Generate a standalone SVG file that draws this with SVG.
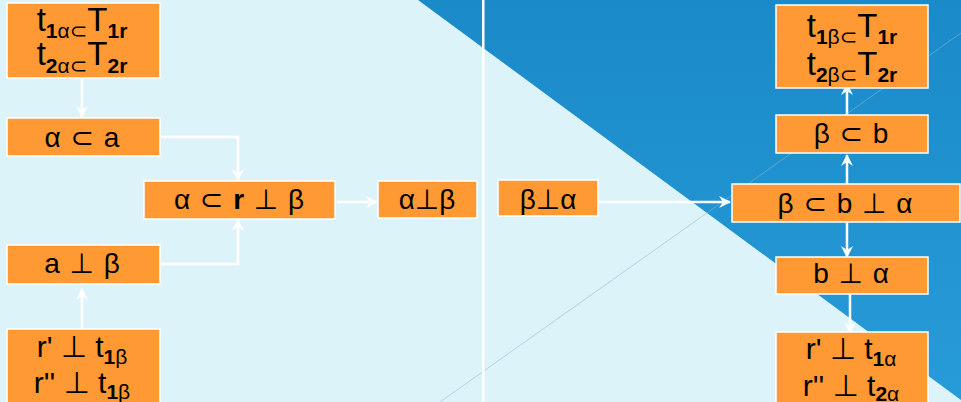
<svg xmlns="http://www.w3.org/2000/svg" width="961" height="402" viewBox="0 0 961 402">
<defs>
<linearGradient id="blue" x1="0" y1="0" x2="0" y2="1">
<stop offset="0" stop-color="#1a8ac8"/>
<stop offset="1" stop-color="#279bd8"/>
</linearGradient>
<marker id="ah" viewBox="0 0 12 12" refX="11" refY="6" markerWidth="12" markerHeight="12" markerUnits="userSpaceOnUse" orient="auto">
<path d="M0,0 L12,6 L0,12 L4,6 Z" fill="#ffffff"/>
</marker>
<style>
.box{fill:#ff9933;stroke:#ffffff;stroke-width:1.5}
.t{font-family:"Liberation Sans","DejaVu Sans",sans-serif;fill:#000000;text-anchor:middle}
.m{font-size:28px;word-spacing:2px}
.big{font-size:33px}
.mid{font-size:30px}
.sub{font-size:21px}
.b{font-weight:bold}
.c{fill:none;stroke:#ffffff;stroke-width:2.5;marker-end:url(#ah)}
</style>
</defs>
<rect x="0" y="0" width="961" height="402" fill="#dcf4f9"/>
<polygon points="418,0 961,0 961,400" fill="url(#blue)"/>
<line x1="440" y1="402" x2="961" y2="33" stroke="#8fb8d0" stroke-opacity="0.55" stroke-width="1"/>
<rect x="482" y="0" width="2.5" height="402" fill="#ffffff"/>

<g id="connectors">
<path class="c" d="M82,79 L82,117"/>
<path class="c" d="M160,137 L238,137 L238,180"/>
<path class="c" d="M160,264 L238,264 L238,220"/>
<path class="c" d="M82,329 L82,289"/>
<path class="c" d="M337,202 L377,202"/>
<path class="c" d="M598,202 L730,202"/>
<path class="c" d="M847,184 L847,155"/>
<path class="c" d="M847,115 L847,84"/>
<path class="c" d="M847,222 L847,257"/>
<path class="c" d="M850,294 L850,333"/>
</g>

<g id="n1">
<rect class="box" x="7" y="3" width="153" height="75"/>
<text class="t big" x="82" y="31">t<tspan class="sub" dy="7"><tspan class="b">1</tspan>α⊂</tspan><tspan dy="-7">T</tspan><tspan class="sub b" dy="7">1r</tspan></text>
<text class="t big" x="82" y="65">t<tspan class="sub" dy="8"><tspan class="b">2</tspan>α⊂</tspan><tspan dy="-8">T</tspan><tspan class="sub b" dy="8">2r</tspan></text>
</g>
<g id="n2">
<rect class="box" x="7" y="118" width="153" height="38"/>
<text class="t m" x="82" y="147">α ⊂ a</text>
</g>
<g id="n3">
<rect class="box" x="144" y="181" width="191" height="38"/>
<text class="t m" x="239" y="209">α ⊂ <tspan class="b">r</tspan> ⊥ β</text>
</g>
<g id="n4">
<rect class="box" x="378" y="181" width="99" height="37"/>
<text class="t m" x="427" y="209">α⊥β</text>
</g>
<g id="n5">
<rect class="box" x="7" y="245" width="153" height="39"/>
<text class="t m" x="82" y="273">a ⊥ β</text>
</g>
<g id="n6">
<rect class="box" x="7" y="329" width="153" height="80"/>
<text class="t mid" x="82" y="357">r' ⊥ t<tspan class="sub" dy="7"><tspan class="b">1</tspan>β</tspan></text>
<text class="t mid" x="82" y="393">r'' ⊥ t<tspan class="sub" dy="6"><tspan class="b">1</tspan>β</tspan></text>
</g>
<g id="n7">
<rect class="box" x="498" y="180" width="100" height="36"/>
<text class="t m" x="548" y="209">β⊥α</text>
</g>
<g id="n8">
<rect class="box" x="732" y="184" width="228" height="38"/>
<text class="t m" x="845" y="213">β ⊂ b ⊥ α</text>
</g>
<g id="n9">
<rect class="box" x="776" y="115" width="152" height="38"/>
<text class="t m" x="851" y="143">β ⊂ b</text>
</g>
<g id="n10">
<rect class="box" x="776" y="5" width="152" height="83"/>
<text class="t big" x="852" y="37">t<tspan class="sub" dy="7"><tspan class="b">1</tspan>β⊂</tspan><tspan dy="-7">T</tspan><tspan class="sub b" dy="7">1r</tspan></text>
<text class="t big" x="852" y="75">t<tspan class="sub" dy="7"><tspan class="b">2</tspan>β⊂</tspan><tspan dy="-7">T</tspan><tspan class="sub b" dy="7">2r</tspan></text>
</g>
<g id="n11">
<rect class="box" x="776" y="257" width="152" height="37"/>
<text class="t m" x="851" y="283">b ⊥ α</text>
</g>
<g id="n12">
<rect class="box" x="776" y="332" width="152" height="80"/>
<text class="t mid" x="851" y="359">r' ⊥ t<tspan class="sub" dy="7"><tspan class="b">1</tspan>α</tspan></text>
<text class="t mid" x="851" y="396">r'' ⊥ t<tspan class="sub" dy="5"><tspan class="b">2</tspan>α</tspan></text>
</g>
</svg>
